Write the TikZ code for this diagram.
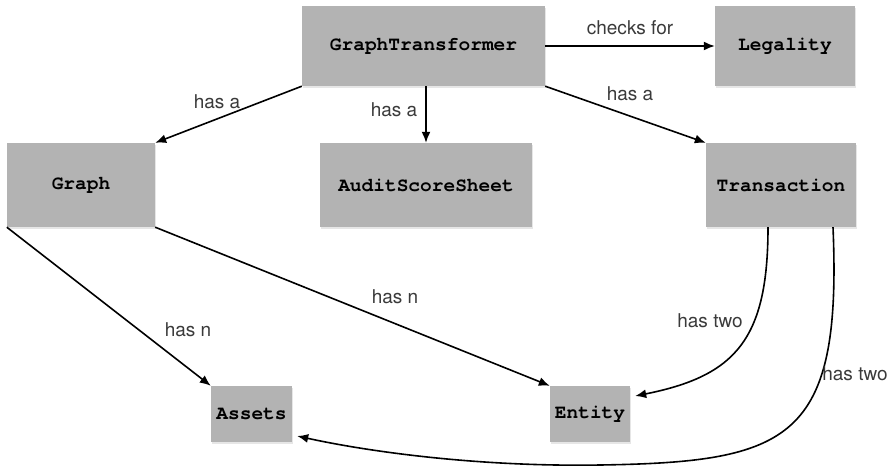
\documentclass[tikz,border=0pt]{standalone}
\usepackage{fontspec}
\setsansfont{TeX Gyre Heros}
\newfontfamily\codefont{TeX Gyre Cursor}
\usetikzlibrary{arrows.meta,shadows}

\definecolor{boxgray}{HTML}{B3B3B3}
\definecolor{labelgray}{HTML}{3A3A3A}

\tikzset{
  box/.style={fill=boxgray, inner sep=0pt,
    font=\codefont\bfseries\fontsize{19.5}{23}\selectfont,
    drop shadow={opacity=0.2, shadow xshift=1pt, shadow yshift=-1.5pt}},
  lbl/.style={anchor=base, inner sep=0pt, text=labelgray,
    font=\sffamily\fontsize{19}{23}\selectfont},
  link/.style={line width=1.6pt, -{Latex[length=11pt,width=9pt]}},
}

\begin{document}
\begin{tikzpicture}[x=1pt, y=1pt]
    \useasboundingbox (0,0) rectangle (896,-469);

    % classes
    \node[box, minimum width=243, minimum height=80] (gt) at (423.5,-46) {GraphTransformer};
    \node[box, minimum width=140, minimum height=80] (legal) at (785,-46) {Legality};
    \node[box, minimum width=148, minimum height=84] (graph) at (81,-185) {Graph};
    \node[box, minimum width=212, minimum height=84] (audit) at (426,-185) {AuditScoreSheet};
    \node[box, minimum width=150, minimum height=84] (trans) at (781,-185) {Transaction};
    \node[box, minimum width=81, minimum height=56] (assets) at (251.5,-414) {Assets};
    \node[box, minimum width=80, minimum height=56] (entity) at (590,-414) {Entity};

    % relations
    \draw[link] (gt.east) -- (legal.west);
    \draw[link] (gt.south west) -- (graph.north east);
    \draw[link] (gt.south -| audit.north) -- (audit.north);
    \draw[link] (gt.south east) -- (trans.north west);
    \draw[link] (graph.south west) -- (assets.north west);
    \draw[link] (graph.south east) -- (entity.north west);
    \draw[link] ([xshift=-13pt]trans.south) .. controls (768,-340) and (735,-376) .. ([xshift=5pt,yshift=18pt]entity.east);
    \draw[link] ([xshift=52pt]trans.south) .. controls (842,-440) and (790,-462) .. (600,-465)
        .. controls (480,-467) and (370,-452) .. ([xshift=5pt,yshift=-22pt]assets.east);

    % edge labels
    \node[lbl] (checks) at (630,-34) {checks for};
    \node[lbl] (hasgraph) at (217,-108) {has a};
    \node[lbl] (hasaudit) at (394,-116) {has a};
    \node[lbl] (hastrans) at (630,-100) {has a};
    \node[lbl] (hasassets) at (188,-336) {has n};
    \node[lbl] (hasentity) at (395,-303) {has n};
    \node[lbl] (twoentity) at (710,-327) {has two};
    \node[lbl] (twoassets) at (855,-380) {has two};
\end{tikzpicture}
\end{document}
